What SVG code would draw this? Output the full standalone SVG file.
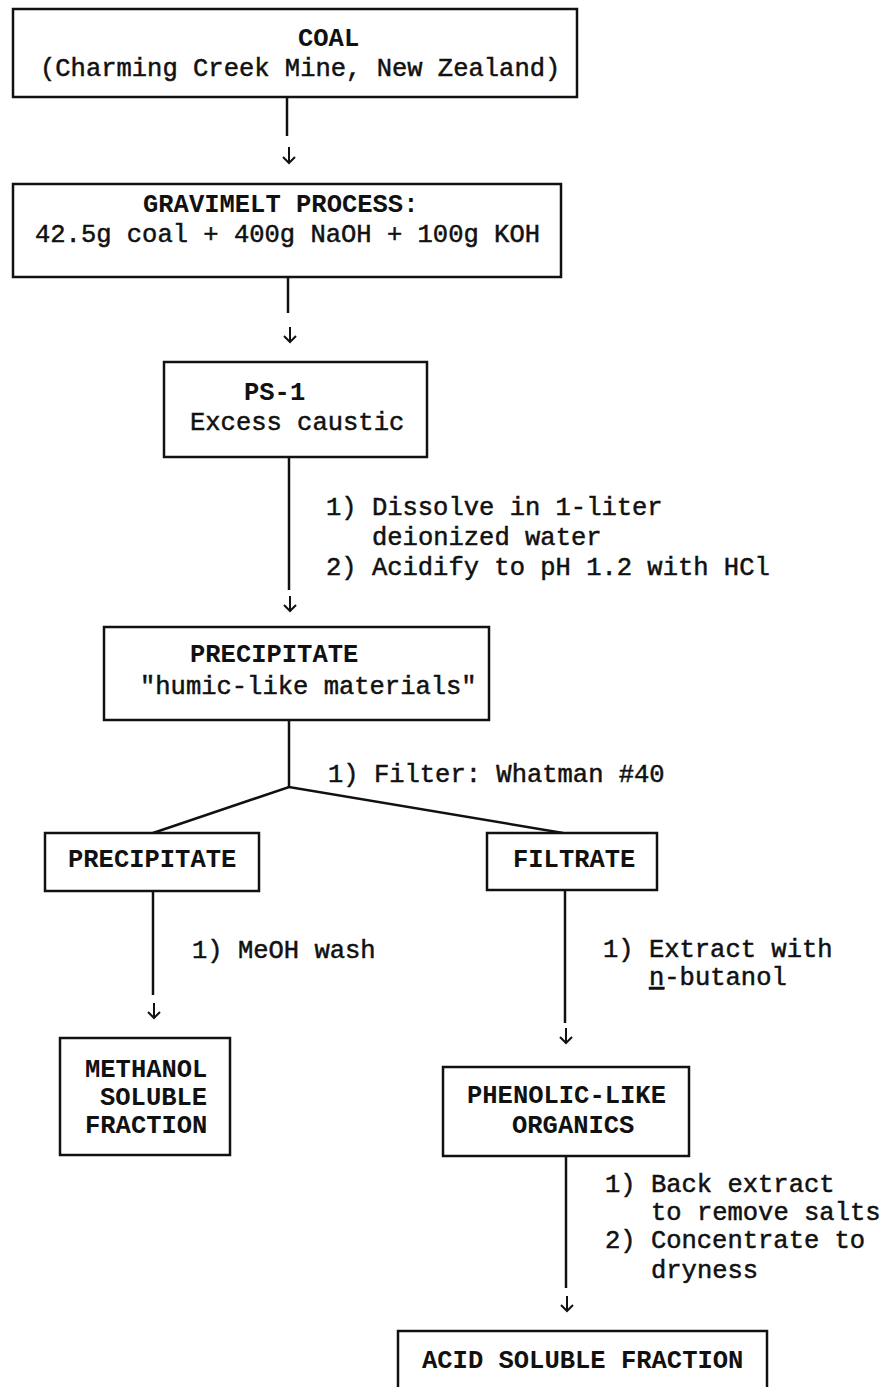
<svg xmlns="http://www.w3.org/2000/svg" width="887" height="1387" viewBox="0 0 887 1387">
<style>
  .box { fill: #ffffff; stroke: #111111; stroke-width: 2.5; }
  .t { font-family: "Liberation Mono", "DejaVu Sans Mono", monospace; font-size: 25.5px; fill: #111111; stroke: #111111; stroke-width: 0.5; }
  .cap { font-family: "Liberation Mono", "DejaVu Sans Mono", monospace; font-size: 25.5px; fill: #111111; font-weight: bold; }
  .ln { fill: none; stroke: #111111; stroke-width: 2.5; }
  .ar { fill: none; stroke: #111111; stroke-width: 2; stroke-linejoin: miter; }
</style>
<rect x="0" y="0" width="887" height="1387" fill="#ffffff"/>

<g id="connectors">
  <line class="ln" x1="287" y1="97" x2="287" y2="136"/>
  <path class="ar" d="M289 147 V163 M283 157 L289 163 L295 157"/>
  <line class="ln" x1="288" y1="277" x2="288" y2="313"/>
  <path class="ar" d="M290 327 V342 M284 336 L290 342 L296 336"/>
  <line class="ln" x1="289" y1="457" x2="289" y2="590"/>
  <path class="ar" d="M290 596 V611 M284 605 L290 611 L296 605"/>
  <polyline class="ln" points="289,720 289,787"/>
  <polyline class="ln" points="153,833 289,787 563,833"/>
  <line class="ln" x1="153" y1="891" x2="153" y2="995"/>
  <path class="ar" d="M154 1003 V1018 M148 1012 L154 1018 L160 1012"/>
  <line class="ln" x1="565" y1="890" x2="565" y2="1023"/>
  <path class="ar" d="M566 1028 V1043 M560 1037 L566 1043 L572 1037"/>
  <line class="ln" x1="566" y1="1156" x2="566" y2="1288"/>
  <path class="ar" d="M567 1296 V1311 M561 1305 L567 1311 L573 1305"/>
</g>

<g id="labels">
  <text class="t" x="326" y="515">1) Dissolve in 1-liter</text>
  <text class="t" x="372" y="545">deionized water</text>
  <text class="t" x="326" y="575">2) Acidify to pH 1.2 with HCl</text>
  <text class="t" x="328" y="782">1) Filter: Whatman #40</text>
  <text class="t" x="192" y="958">1) MeOH wash</text>
  <text class="t" x="603" y="957">1) Extract with</text>
  <text class="t" x="649" y="985"><tspan style="text-decoration:underline">n</tspan>-butanol</text>
  <text class="t" x="605" y="1192">1) Back extract</text>
  <text class="t" x="651" y="1220">to remove salts</text>
  <text class="t" x="605" y="1248">2) Concentrate to</text>
  <text class="t" x="651" y="1278">dryness</text>
</g>

<g id="coal">
  <rect class="box" x="13" y="9" width="564" height="88"/>
  <text class="cap" x="298" y="46">COAL</text>
  <text class="t" x="40" y="76">(Charming Creek Mine, New Zealand)</text>
</g>

<g id="gravimelt">
  <rect class="box" x="13" y="184" width="548" height="93"/>
  <text class="cap" x="143" y="212">GRAVIMELT PROCESS:</text>
  <text class="t" x="35" y="242">42.5g coal + 400g NaOH + 100g KOH</text>
</g>

<g id="ps1">
  <rect class="box" x="164" y="362" width="263" height="95"/>
  <text class="cap" x="244" y="400">PS-1</text>
  <text class="t" x="190" y="430">Excess caustic</text>
</g>

<g id="precipitate1">
  <rect class="box" x="104" y="627" width="385" height="93"/>
  <text class="cap" x="190" y="662">PRECIPITATE</text>
  <text class="t" x="140" y="694">"humic-like materials"</text>
</g>

<g id="precipitate2">
  <rect class="box" x="45" y="833" width="214" height="58"/>
  <text class="cap" x="68" y="867">PRECIPITATE</text>
</g>

<g id="filtrate">
  <rect class="box" x="487" y="833" width="170" height="57"/>
  <text class="cap" x="513" y="867">FILTRATE</text>
</g>

<g id="methanol">
  <rect class="box" x="60" y="1038" width="170" height="117"/>
  <text class="cap" x="85" y="1077">METHANOL</text>
  <text class="cap" x="100" y="1105">SOLUBLE</text>
  <text class="cap" x="85" y="1133">FRACTION</text>
</g>

<g id="phenolic">
  <rect class="box" x="443" y="1067" width="246" height="89"/>
  <text class="cap" x="467" y="1103">PHENOLIC-LIKE</text>
  <text class="cap" x="512" y="1133">ORGANICS</text>
</g>

<g id="acid">
  <rect class="box" x="398" y="1331" width="369" height="70"/>
  <text class="cap" x="422" y="1368">ACID SOLUBLE FRACTION</text>
</g>
</svg>
